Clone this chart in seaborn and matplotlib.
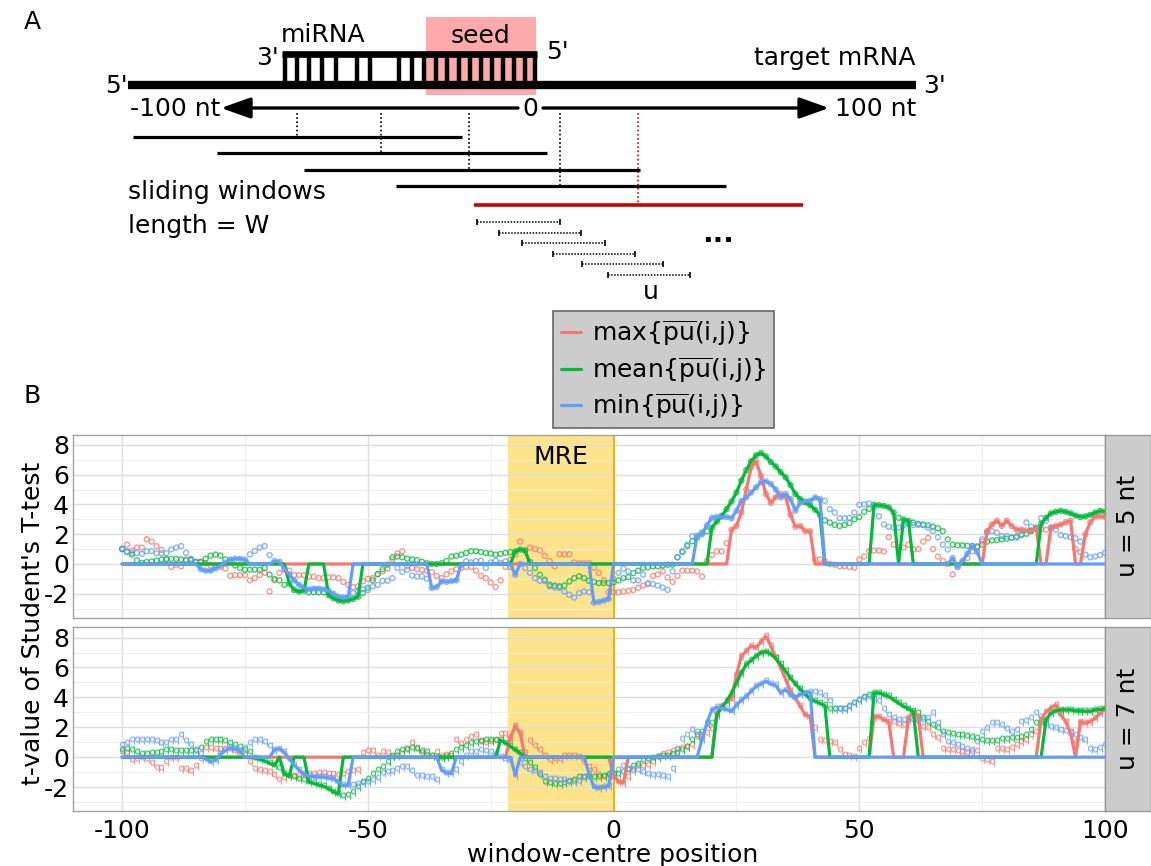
import numpy as np
import pandas as pd
import matplotlib
matplotlib.use("Agg")
import matplotlib.pyplot as plt
import seaborn as sns
from matplotlib.lines import Line2D
from matplotlib.patches import Rectangle
from matplotlib.ticker import FixedLocator

# ---------------------------------------------------------------------------
# data: Student's t-values per window centre (-100 .. 100 nt)
# ---------------------------------------------------------------------------
positions = np.arange(-100, 101)

max_u5 = [
    1.0, 1.3, 0.9, 1.1, 1.1, 1.65, 1.5, 1.2, 0.95, 0.3,
    -0.2, -0.05, -0.15, 0.3, 0.25, 0.15, 0.1, 0.05, -0.1, -0.1,
    -0.2, -0.3, -0.8, -0.75, -0.75, -0.75, -1.1, -0.95, -0.75, -0.6,
    -1.85, -1.1, -0.6, -0.4, -0.45, -0.75, -0.75, -0.75, -0.85, -0.85,
    -0.95, -0.95, -0.9, -0.9, -0.95, -1.2, -1.4, -1.55, -1.5, -1.15,
    -1.0, -0.95, -0.7, -0.5, -0.3, 0.3, 0.7, 0.85, -0.15, -0.27,
    -0.35, -0.4, -0.45, -0.55, -0.8, -0.95, -0.7, -0.5, -0.35, -0.25,
    -0.2, -0.2, -0.45, -0.8, -0.95, -1.25, -1.55, -1.1, -0.2, 0.3,
    0.65, 1.5, 0.9, 1.1, 1.0, 0.9, 0.55, 0.2, -0.15, 0.65,
    0.65, 0.65, 0.1, 0.05, 0.05, 0.05, -0.25, -0.6, -1.1, -1.9,
    -1.9, -1.9, -1.85, -1.8, -1.75, -1.6, -1.45, -1.35, -0.8, -0.7,
    -0.5, -0.9, -1.2, -0.8, -0.45, -0.45, -0.45, -0.5, -0.85, 0.2,
    0.6, 0.85, 0.85, 1.4, 2.3, 2.55, 3.45, 5.0, 6.5, 6.9,
    5.9, 4.7, 4.1, 4.5, 4.7, 4.5, 3.3, 2.5, 2.55, 2.2,
    2.2, 0.3, 0.3, 0.2, 0.0, -0.05, -0.15, -0.15, -0.2, -0.25,
    0.3, 0.5, 0.85, 0.9, 0.9, 0.85, 1.8, 1.3, 1.1, 1.1,
    1.3, 0.97, 1.0, 1.5, 1.75, 1.0, 0.5, 0.2, 0.0, -0.7,
    -0.2, 0.1, 0.4, 0.85, 1.2, 1.5, 2.2, 2.65, 2.9, 2.55,
    2.9, 2.55, 2.3, 2.3, 2.25, 2.2, 2.45, 2.35, 2.3, 2.45,
    2.55, 2.65, 2.8, 2.9, 1.0, 0.8, 2.0, 2.8, 3.2, 3.2, 3.15,
]
mean_u5 = [
    1.0, 0.8, 0.63, 0.25, 0.07, 0.13, 0.17, 0.22, 0.3, 0.34,
    0.34, 0.34, 0.3, 0.25, 0.28, 0.13, 0.15, 0.35, 0.56, 0.63,
    0.56, 0.3, 0.2, -0.1, -0.27, -0.38, -0.38, -0.38, -0.38, -0.27,
    -0.72, -1.0, -1.1, -1.4, -1.3, -1.75, -1.85, -1.8, -1.9, -1.9,
    -1.9, -1.9, -2.1, -2.3, -2.45, -2.5, -2.45, -2.35, -2.2, -1.95,
    -1.6, -1.1, -0.68, -0.35, -0.05, 0.45, 0.5, 0.45, 0.36, 0.3,
    0.27, 0.15, 0.05, 0.0, 0.0, 0.05, 0.2, 0.5, 0.55, 0.63,
    0.74, 0.86, 0.86, 0.8, 0.74, 0.7, 0.63, 0.68, 0.75, 0.8,
    0.85, 0.97, 0.9, 0.13, -0.27, -0.72, -1.06, -1.4, -1.45, -1.5,
    -1.45, -1.17, -0.95, -0.83, -0.95, -1.13, -1.2, -1.28, -1.28, -1.28,
    -1.24, -1.1, -0.95, -0.88, -0.61, -0.45, -0.27, -0.22, -0.16, -0.16,
    -0.1, -0.05, -0.05, 0.45, 0.8, 1.2, 1.53, 1.76, 2.1, 2.2,
    2.44, 2.85, 3.23, 3.68, 4.2, 4.8, 5.6, 6.3, 6.9, 7.3,
    7.45, 7.22, 6.84, 6.55, 6.16, 5.82, 5.3, 4.7, 4.36, 4.13,
    3.95, 3.65, 3.3, 2.93, 2.78, 2.62, 2.55, 2.62, 2.75, 3.0,
    3.15, 3.5, 3.7, 3.97, 3.95, 3.9, 3.8, 3.45, 3.1, 3.0,
    2.9, 2.78, 2.7, 2.65, 2.6, 2.5, 2.4, 2.2, 1.65, 1.3,
    1.26, 1.25, 1.22, 1.2, 1.13, 1.3, 1.5, 1.58, 1.6, 1.65,
    1.7, 1.76, 1.85, 1.94, 2.03, 2.25, 2.4, 2.7, 3.1, 3.4,
    3.5, 3.57, 3.5, 3.4, 3.25, 3.16, 3.2, 3.3, 3.45, 3.57, 3.52,
]
min_u5 = [
    1.04, 0.85, 0.74, 0.74, 0.68, 0.86, 0.86, 0.72, 0.72, 0.72,
    0.98, 1.1, 1.2, 0.75, 0.36, 0.1, -0.35, -0.45, -0.45, -0.3,
    -0.1, 0.1, 0.3, 0.35, 0.35, 0.3, 0.65, 0.87, 1.1, 1.2,
    0.6, 0.2, 0.15, -0.3, -0.7, -1.1, -1.4, -1.6, -1.7, -1.65,
    -1.65, -1.7, -1.8, -2.0, -2.2, -2.25, -2.2, -1.95, -1.85, -1.7,
    -1.75, -1.5, -1.4, -1.13, -1.13, -0.95, -0.27, -0.54, -0.38, -0.77,
    -0.83, -0.83, -1.0, -1.62, -1.55, -1.17, -1.2, -1.15, -1.1, -0.05,
    0.18, 0.1, 0.18, 0.22, -0.27, 0.1, 0.22, 0.07, 0.18, -0.2,
    -0.72, 0.0, -0.27, -0.6, -0.95, -1.13, -1.15, -1.5, -1.58, -1.6,
    -1.85, -2.07, -2.25, -1.95, -1.85, -1.9, -2.6, -2.55, -2.45, -2.35,
    -1.0, -0.6, -0.3, -0.5, -1.1, -1.1, -0.72, -1.29, -1.35, -1.45,
    -1.58, -1.74, -0.5, 0.45, 0.86, 1.3, 1.87, 1.9, 2.0, 2.6,
    3.1, 3.16, 3.16, 3.16, 3.07, 3.57, 4.24, 4.47, 4.8, 5.15,
    5.5, 5.55, 5.37, 5.0, 4.47, 4.7, 4.36, 3.57, 4.13, 4.2,
    4.24, 4.47, 4.36, 4.24, 3.68, 3.45, 3.07, 3.07, 3.1, 3.45,
    3.97, 4.0, 4.06, 3.8, 3.2, 2.66, 2.5, 2.44, 2.44, 2.6,
    2.7, 2.62, 2.62, 2.6, 2.44, 2.2, 1.8, 1.3, 0.97, 0.4,
    -0.2, 0.2, 0.7, 1.2, 0.8, 1.65, 2.1, 2.2, 2.1, 1.87,
    1.87, 1.8, 1.76, 2.0, 2.78, 2.5, 2.4, 3.07, 2.9, 2.44,
    2.3, 1.94, 1.87, 1.8, 1.72, 1.5, 0.63, 0.45, 0.5, 0.6, 0.75,
]

max_u7 = [
    0.32, 0.25, -0.18, -0.1, -0.07, -0.1, -0.36, -0.75, -0.75, -0.3,
    -0.07, -0.07, -0.82, -0.82, -0.9, -0.6, -0.1, 0.6, 0.6, 0.55,
    0.55, 0.55, 0.55, 0.4, 0.3, 0.15, -0.3, -0.82, -0.86, -0.9,
    -0.98, -1.2, -1.55, -1.4, -1.27, -1.27, -1.25, -1.2, -1.1, -1.1,
    -1.05, -1.05, -1.1, -1.15, -1.2, -1.15, -1.0, -0.9, -0.86, 0.27,
    0.38, 0.38, 0.1, 0.32, 0.3, 0.0, 0.05, 0.2, 0.5, 0.95,
    0.6, 0.27, 0.15, 0.1, 0.32, 0.1, 0.16, 0.1, 1.14, 0.9,
    1.14, 1.36, 1.45, 1.0, 0.95, 1.0, 1.1, 1.52, 1.52, 1.3,
    2.1, 1.6, 0.3, 1.07, 0.77, 0.5, 0.05, -0.2, -0.14, -0.14,
    0.05, 0.1, 0.05, 0.0, -0.3, -0.64, -0.86, -1.2, -1.3, -1.1,
    -1.2, -1.65, -1.7, -1.3, -0.9, -0.6, -0.6, -0.5, -0.3, 0.0,
    0.2, 0.3, 0.4, 0.55, 0.63, 0.7, 0.8, 1.37, 1.5, 1.6,
    1.9, 2.94, 3.4, 3.73, 3.9, 5.5, 6.76, 7.1, 7.44, 7.33,
    7.73, 8.1, 7.44, 6.65, 5.98, 5.2, 4.4, 3.96, 3.4, 2.83,
    2.72, 1.93, 1.15, 1.1, 1.0, 0.92, 0.5, 0.13, 0.1, 0.02,
    0.58, 0.92, 1.2, 2.72, 2.72, 2.5, 2.38, 2.38, 2.2, 2.16,
    2.6, 3.05, 2.72, 2.0, 1.93, 1.48, 1.3, 0.58, 0.47, 0.47,
    0.4, 0.35, 0.3, 0.35, 0.4, -0.1, -0.2, -0.3, 0.58, 0.55,
    0.47, 0.6, 0.8, 1.0, 1.15, 1.5, 1.7, 2.5, 3.05, 3.3,
    3.5, 2.83, 2.38, 1.6, 1.0, 2.38, 2.27, 2.38, 2.6, 2.94, 3.24,
]
mean_u7 = [
    0.5, 0.55, 0.45, 0.32, 0.23, 0.23, 0.25, 0.27, 0.32, 0.45,
    0.45, 0.39, 0.39, 0.39, 0.39, 0.39, 0.6, 1.0, 1.14, 1.14,
    1.14, 1.07, 0.95, 0.84, 0.68, 0.5, 0.32, -0.05, -0.15, -0.25,
    -0.4, -0.55, -0.7, -1.1, -1.25, -1.32, -1.43, -1.55, -1.66, -1.75,
    -1.85, -1.95, -2.1, -2.3, -2.45, -2.57, -2.5, -2.3, -2.0, -1.66,
    -1.43, -1.1, -0.86, -0.64, -0.3, 0.05, 0.32, 0.45, 0.57, 0.61,
    0.55, 0.43, 0.32, 0.09, 0.0, -0.05, 0.0, 0.23, 0.45, 0.61,
    0.77, 0.95, 1.0, 1.07, 1.14, 1.16, 1.18, 1.14, 0.95, 0.73,
    0.5, 0.27, -0.1, -0.41, -0.75, -1.2, -1.66, -1.73, -1.77, -1.77,
    -1.75, -1.66, -1.5, -1.32, -1.32, -1.32, -1.32, -1.3, -1.25, -1.2,
    -1.15, -1.1, -1.0, -0.88, -0.58, -0.43, -0.2, -0.12, -0.05, 0.02,
    0.05, 0.1, 0.2, 0.3, 0.47, 0.7, 1.15, 1.48, 1.7, 2.2,
    2.3, 2.83, 3.33, 3.73, 4.3, 4.97, 5.64, 6.2, 6.47, 6.76,
    6.99, 7.06, 6.9, 6.6, 6.2, 5.75, 5.3, 4.9, 4.55, 4.2,
    3.9, 3.75, 3.6, 3.46, 3.24, 3.24, 3.24, 3.24, 3.4, 3.62,
    3.84, 4.0, 4.15, 4.3, 4.3, 4.18, 4.07, 3.84, 3.62, 3.4,
    3.24, 3.06, 2.94, 2.6, 2.38, 2.16, 1.93, 1.7, 1.6, 1.53,
    1.5, 1.46, 1.44, 1.37, 1.26, 1.15, 1.08, 1.08, 1.1, 1.21,
    1.23, 1.26, 1.3, 1.37, 1.48, 1.82, 2.27, 2.35, 2.5, 2.94,
    3.1, 3.17, 3.17, 3.17, 3.1, 3.1, 3.06, 3.06, 3.17, 3.2, 3.24,
]
min_u7 = [
    0.84, 0.95, 1.14, 1.14, 1.14, 1.14, 1.14, 1.07, 0.95, 0.95,
    1.14, 1.18, 1.45, 1.07, 0.84, 0.45, 0.2, -0.1, -0.3, -0.2,
    0.2, 0.45, 0.6, 0.55, 0.4, 0.6, 0.95, 1.18, 1.15, 1.0,
    0.73, 0.5, 0.57, 0.32, -0.1, -0.52, -0.86, -1.14, -1.27, -1.3,
    -1.32, -1.32, -1.38, -1.43, -1.66, -1.89, -1.89, -1.89, -1.77, -1.73,
    -1.66, -1.55, -1.36, -1.09, -1.0, -0.9, -0.82, -0.68, -0.64, -0.9,
    -1.27, -1.27, -1.3, -1.32, -1.5, -0.86, -1.05, -1.09, -0.86, -0.3,
    0.05, 0.32, 0.35, 0.5, 0.4, 0.32, 0.2, 0.0, -0.14, -0.2,
    -1.2, -0.4, -0.64, -0.86, -0.9, -1.05, -1.32, -1.43, -1.45, -1.5,
    -1.52, -1.6, -1.66, -1.6, -1.4, -1.1, -2.0, -2.05, -2.0, -1.95,
    -1.3, -0.86, -0.6, -0.76, -0.8, -0.88, -1.0, -1.1, -1.17, -1.21,
    -1.26, -1.33, -0.76, 0.5, 1.2, 1.5, 1.8, 1.7, 1.2, 2.3,
    3.17, 3.33, 3.28, 3.2, 3.06, 3.5, 3.8, 4.07, 4.4, 4.74,
    4.9, 5.08, 4.9, 4.81, 4.3, 4.52, 4.18, 3.96, 4.22, 4.29,
    4.36, 4.36, 4.3, 4.07, 3.73, 3.24, 3.24, 3.24, 3.33, 3.62,
    3.8, 3.96, 4.0, 3.9, 3.73, 3.24, 2.83, 2.6, 2.49, 2.49,
    2.49, 2.5, 2.45, 2.5, 2.6, 2.94, 2.3, 1.48, 1.03, 0.92,
    0.81, 0.7, 0.58, 0.47, 1.0, 1.7, 1.93, 2.27, 2.27, 2.16,
    1.9, 1.7, 1.82, 2.38, 2.4, 2.6, 2.94, 2.7, 2.2, 2.0,
    1.93, 1.82, 1.75, 1.7, 1.48, 1.3, 1.15, 0.58, 0.47, 0.6, 0.81,
]

# windows (inclusive, nt) where the t-test is significant
sig_max_u5 = [(24, 40), (76, 86), (89, 93), (96, 100)]
sig_mean_u5 = [(-66, -63), (-58, -52), (-20, -18), (20, 42), (53, 57), (59, 60), (87, 100)]
sig_min_u5 = [(-84, -75), (-69, -54), (-37, -32), (-20, -20), (-4, -1), (17, 42), (69, 74)]
sig_max_u7 = [(-21, -19), (0, 2), (21, 40), (53, 56), (60, 62), (87, 93), (95, 100)]
sig_mean_u7 = [(-73, -69), (-67, -66), (-62, -56), (-23, -19), (21, 43), (53, 61), (88, 100)]
sig_min_u7 = [(-83, -76), (-69, -54), (-35, -33), (-20, -20), (-5, -1), (18, 40)]

stats = ["max", "mean", "min"]
panel_names = ["u = 5 nt", "u = 7 nt"]
mre_region = (-21.4, 0.0)
x_ticks = [-100, -50, 0, 50, 100]
y_ticks = [-2, 0, 2, 4, 6, 8]

series = {
    "u = 5 nt": {"max": (max_u5, sig_max_u5), "mean": (mean_u5, sig_mean_u5), "min": (min_u5, sig_min_u5)},
    "u = 7 nt": {"max": (max_u7, sig_max_u7), "mean": (mean_u7, sig_mean_u7), "min": (min_u7, sig_min_u7)},
}


def significant_only(values, windows):
    values = np.asarray(values, dtype=float)
    keep = np.zeros(values.size, dtype=bool)
    for lo, hi in windows:
        keep |= (positions >= lo) & (positions <= hi)
    return np.where(keep, values, 0.0)


frames = []
for panel, per_stat in series.items():
    for stat, (vals, wins) in per_stat.items():
        assert len(vals) == positions.size
        frames.append(pd.DataFrame({
            "pos": positions, "t": vals, "line": significant_only(vals, wins),
            "stat": stat, "panel": panel,
        }))
df = pd.concat(frames, ignore_index=True)

# ---------------------------------------------------------------------------
# styling
# ---------------------------------------------------------------------------
sns.set_theme(style="white")
plt.rcParams["font.family"] = ["DejaVu Sans"]
plt.rcParams["axes.unicode_minus"] = False
plt.rcParams["mathtext.fontset"] = "dejavusans"
for key in ["text.color", "axes.labelcolor", "xtick.color", "ytick.color"]:
    plt.rcParams[key] = "black"

palette = {"max": "#F8766D", "mean": "#00BA38", "min": "#619CFF"}
labels = {
    "max": r"max$\{\overline{\mathrm{pu}}$(i,j)$\}$",
    "mean": r"mean$\{\overline{\mathrm{pu}}$(i,j)$\}$",
    "min": r"min$\{\overline{\mathrm{pu}}$(i,j)$\}$",
}
FS = 18
band_color = "#FDE38A"
W, H = 1151, 866

fig = plt.figure(figsize=(W / 100, H / 100), dpi=100)


def fbox(x0, y0, x1, y1):
    return [x0 / W, 1 - y1 / H, (x1 - x0) / W, (y1 - y0) / H]


# ---------------------------------------------------------------------------
# panel A: schematic of the sliding-window scan
# ---------------------------------------------------------------------------
sk = fig.add_axes([0, 0, 1, 1], zorder=0)
sk.set_xlim(0, W)
sk.set_ylim(H, 0)
sk.axis("off")

sk.text(32, 22, "A", fontsize=FS, ha="center", va="center")
sk.text(32, 396, "B", fontsize=FS, ha="center", va="center")

sk.add_patch(Rectangle((426, 17), 110, 78, facecolor="#FFAAAA", edgecolor="none", zorder=1))
sk.text(481, 36, "seed", fontsize=FS, ha="center", va="center", zorder=3)
sk.text(323, 35, "miRNA", fontsize=FS, ha="center", va="center")
sk.text(268, 58, "3'", fontsize=FS, ha="center", va="center")
sk.text(557, 52, "5'", fontsize=FS, ha="center", va="center")
sk.text(835, 58, "target mRNA", fontsize=FS, ha="center", va="center")
sk.text(116, 86, "5'", fontsize=FS, ha="center", va="center")
sk.text(935, 86, "3'", fontsize=FS, ha="center", va="center")

sk.plot([128, 916], [85, 85], color="black", lw=6.0, solid_capstyle="butt", zorder=2)
sk.plot([282, 537], [54, 54], color="black", lw=4.8, solid_capstyle="butt", zorder=2)
pairs_x = [285, 297, 309, 322, 336, 357, 370, 399, 412, 424, 436, 447, 459, 470,
           481, 492, 503, 514, 525, 535]
for bx in pairs_x:
    sk.plot([bx, bx], [54, 85], color="black", lw=3.2, solid_capstyle="butt", zorder=2)

arrow_style = "-|>,head_length=0.9,head_width=0.32"
sk.annotate("", xy=(221, 108), xytext=(518, 108),
            arrowprops=dict(arrowstyle=arrow_style, color="black", lw=2.4, mutation_scale=20,
                            shrinkA=0, shrinkB=0))
sk.annotate("", xy=(829, 108), xytext=(543, 108),
            arrowprops=dict(arrowstyle=arrow_style, color="black", lw=2.4, mutation_scale=20,
                            shrinkA=0, shrinkB=0))
sk.text(175, 109, "-100 nt", fontsize=FS, ha="center", va="center")
sk.text(530, 109, "0", fontsize=FS, ha="center", va="center")
sk.text(876, 109, "100 nt", fontsize=FS, ha="center", va="center")

windows = [(133, 462, 137, 297), (217, 547, 153, 381), (304, 640, 170, 469), (396, 726, 186, 560)]
for x0, x1, wy, cx in windows:
    sk.plot([x0, x1], [wy, wy], color="black", lw=2.3, solid_capstyle="butt")
    sk.plot([cx, cx], [113, wy], color="black", lw=1.2, ls=(0, (1, 1.5)))
sk.plot([474, 803], [205, 205], color="#CC0000", lw=2.6, solid_capstyle="butt")
sk.plot([638, 638], [113, 205], color="#DD0000", lw=1.2, ls=(0, (1, 1.5)))

sk.text(128, 192, "sliding windows", fontsize=FS, ha="left", va="center")
sk.text(128, 226, "length = W", fontsize=FS, ha="left", va="center")

subwins = [(477, 560, 222), (499, 581, 233), (522, 605, 243), (553, 635, 254),
           (582, 663, 264), (608, 690, 275)]
for x0, x1, wy in subwins:
    sk.plot([x0, x1], [wy, wy], color="black", lw=1.1, ls=(0, (1, 1)))
    sk.plot([x0, x1], [wy, wy], ls="none", marker="|", ms=5, mew=1.2, color="black")
sk.text(718, 234, "...", fontsize=FS + 2, fontweight="bold", ha="center", va="center")
sk.text(651, 292, "u", fontsize=FS, ha="center", va="center")

# ---------------------------------------------------------------------------
# panel B: two facets sharing the y scale
# ---------------------------------------------------------------------------
boxes = {"u = 5 nt": (434.7, 617.6), "u = 7 nt": (627.4, 811.0)}
markers = {"u = 5 nt": "o", "u = 7 nt": r"$\mathrm{q}$"}

for i, panel in enumerate(panel_names):
    y0, y1 = boxes[panel]
    ax = fig.add_axes(fbox(73, y0, 1105, y1), zorder=2)
    ax.set_facecolor("white")
    ax.set_xlim(-110, 100)
    ax.set_ylim(-3.6, 8.68)
    ax.set_axisbelow(True)
    ax.axvspan(*mre_region, color=band_color, lw=0, zorder=0.1)
    ax.xaxis.set_major_locator(FixedLocator(x_ticks))
    ax.xaxis.set_minor_locator(FixedLocator([-75, -25, 25, 75]))
    ax.yaxis.set_major_locator(FixedLocator(y_ticks))
    ax.yaxis.set_minor_locator(FixedLocator([-3, -1, 1, 3, 5, 7]))
    ax.grid(which="major", color="#DEDEDE", lw=1.0)
    ax.grid(which="minor", color="#EDEDED", lw=0.6)
    ax.axvline(mre_region[1], color="#E3B21A", lw=1.4, zorder=0.6)
    for sp in ax.spines.values():
        sp.set_color("#A3A3A3")
        sp.set_linewidth(1.0)
    ax.tick_params(which="both", length=0, labelsize=FS, pad=3)

    d = df[df["panel"] == panel]
    for stat in stats:
        ds = d[d["stat"] == stat]
        c = palette[stat]
        if markers[panel] == "o":
            sns.scatterplot(x=ds["pos"], y=ds["t"], ax=ax, marker="o", s=13,
                            color=c, facecolor="none", edgecolor=c, linewidth=1.0,
                            alpha=0.75, legend=False, zorder=2)
        else:
            sns.scatterplot(x=ds["pos"], y=ds["t"], ax=ax, marker=markers[panel], s=30,
                            color=c, edgecolor=c, linewidth=0.2,
                            alpha=0.75, legend=False, zorder=2)
    sns.lineplot(data=d, x="pos", y="line", hue="stat", hue_order=stats, palette=palette,
                 estimator=None, linewidth=2.3, legend=False, ax=ax, zorder=3)
    ax.set_xlabel("")
    ax.set_ylabel("")
    ax.set_yticklabels([str(v) for v in y_ticks])
    if i == 0:
        ax.set_xticklabels([])
        ax.text(-10.7, 7.2, "MRE", fontsize=FS, ha="center", va="center", zorder=4)
    else:
        ax.set_xticklabels([str(v) for v in x_ticks])
        ax.tick_params(axis="x", pad=6)

    strip = fig.add_axes(fbox(1105, y0, 1151, y1), zorder=2)
    strip.set_facecolor("#CCCCCC")
    strip.set_xticks([])
    strip.set_yticks([])
    for sp in strip.spines.values():
        sp.set_color("#999999")
        sp.set_linewidth(1.0)
    strip.text(0.5, 0.5, panel, rotation=90, fontsize=FS, ha="center", va="center",
               transform=strip.transAxes)

fig.text(33 / W, 1 - 623 / H, "t-value of Student's T-test", rotation=90,
         fontsize=FS, ha="center", va="center")
fig.text(613 / W, 1 - 855 / H, "window-centre position", fontsize=FS,
         ha="center", va="center")

handles = [Line2D([0], [0], color=palette[s], lw=2.3) for s in stats]
leg = fig.legend(handles, [labels[s] for s in stats], loc="upper left",
                 bbox_to_anchor=(553 / W, 1 - 311 / H), fontsize=FS, frameon=True,
                 fancybox=False, facecolor="#CCCCCC", edgecolor="#666666", framealpha=1,
                 handlelength=0.8, handletextpad=0.45, borderpad=0.3, labelspacing=0.25,
                 borderaxespad=0)
leg.get_frame().set_linewidth(1.2)
leg.set_zorder(5)

fig.savefig("out.png", dpi=100)
